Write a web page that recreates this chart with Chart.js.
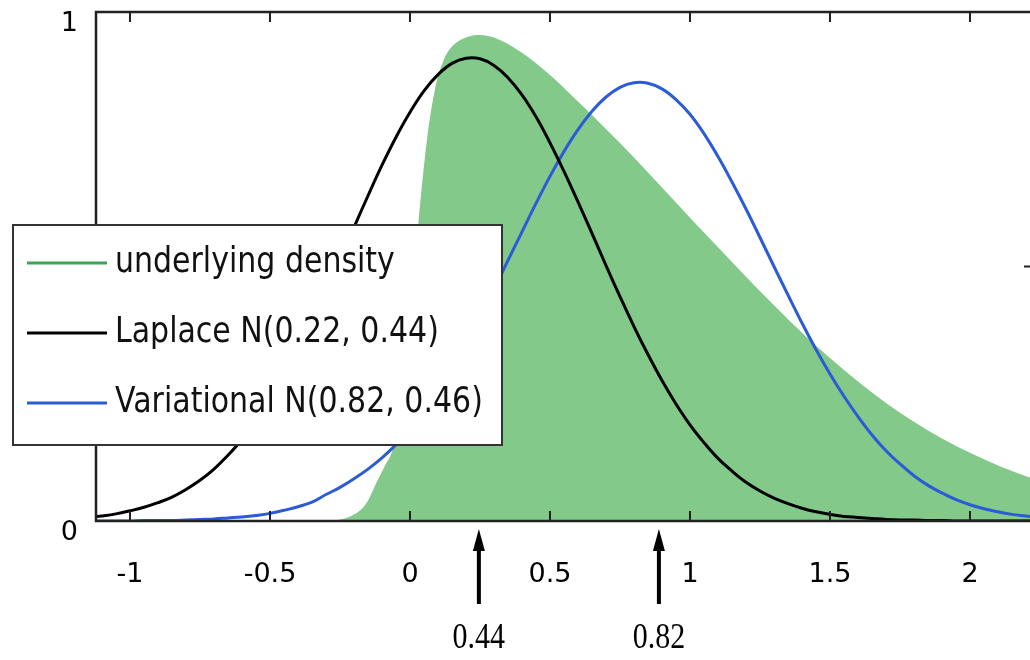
<!DOCTYPE html>
<html>
<head>
<meta charset="utf-8">
<script src="https://cdn.jsdelivr.net/npm/chart.js@4.4.1/dist/chart.umd.min.js"></script>
<style>
  html, body { margin: 0; padding: 0; background: #fff; overflow: hidden; }
  #wrap { position: absolute; left: 0; top: 0; width: 1036px; height: 660px; }
</style>
</head>
<body>
<div id="wrap"><canvas id="c" width="1036" height="660"></canvas></div>
<script>
// ---- data ----
const xGrid = [-1.15,-1.10,-1.05,-1.00,-0.95,-0.90,-0.85,-0.80,-0.75,-0.70,-0.65,-0.60,-0.55,-0.50,-0.45,-0.40,-0.35,-0.30,-0.25,-0.20,-0.15,-0.10,-0.05,
  0.00,0.05,0.10,0.15,0.20,0.25,0.30,0.35,0.40,0.45,0.50,0.55,0.60,0.65,0.70,0.75,0.80,0.85,0.90,0.95,
  1.00,1.05,1.10,1.15,1.20,1.25,1.30,1.35,1.40,1.45,1.50,1.55,1.60,1.65,1.70,1.75,1.80,1.85,1.90,1.95,
  2.00,2.05,2.10,2.15,2.20,2.25];

const laplaceY = [0.007,0.010,0.014,0.020,0.027,0.036,0.047,0.062,0.080,0.102,0.129,0.160,0.197,0.239,0.286,0.337,0.393,0.453,0.514,0.577,0.639,0.699,0.754,
  0.803,0.845,0.877,0.899,0.909,0.908,0.895,0.871,0.837,0.794,0.743,0.687,0.627,0.565,0.502,0.441,0.382,0.327,0.276,0.230,
  0.189,0.154,0.123,0.098,0.076,0.059,0.045,0.034,0.025,0.018,0.013,0.009,0.007,0.005,0.003,0.002,0.002,0.001,0.001,0.000,
  0,0,0,0,0,0];

const variationalY = [0.000,0.000,0.000,0.000,0.001,0.001,0.001,0.002,0.003,0.004,0.006,0.008,0.011,0.015,0.021,0.028,0.037,0.052,0.066,0.083,0.102,0.124,0.150,
  0.180,0.215,0.255,0.299,0.348,0.400,0.455,0.512,0.568,0.624,0.677,0.726,0.769,0.805,0.833,0.852,0.861,0.860,0.849,0.828,
  0.799,0.761,0.716,0.666,0.613,0.557,0.500,0.444,0.389,0.337,0.289,0.245,0.205,0.169,0.138,0.112,0.089,0.070,0.055,0.042,
  0.032,0.024,0.018,0.013,0.010,0.007];

const densityX = [-1.15,-0.30,-0.25,-0.21,-0.18,-0.15,-0.12,-0.09,-0.06,-0.03,0.00,0.03,0.06,0.09,0.12,0.15,0.20,0.25,0.30,
  0.40,0.50,0.60,0.70,0.80,0.90,1.00,1.10,1.20,1.30,1.40,1.50,1.60,1.70,1.80,1.90,2.00,2.10,2.20,2.25];
const densityY = [0,0,0.003,0.010,0.020,0.040,0.075,0.108,0.145,0.245,0.403,0.586,0.746,0.850,0.905,0.932,0.950,0.955,0.950,
  0.920,0.876,0.824,0.770,0.714,0.655,0.596,0.538,0.480,0.424,0.370,0.320,0.274,0.232,0.195,0.162,0.134,0.109,0.088,0.079];

const seriesLabels = ['underlying density', 'Laplace N(0.22, 0.44)', 'Variational N(0.82, 0.46)'];

const xTickValues = [-1, -0.5, 0, 0.5, 1, 1.5, 2];
const xTickLabels = ['-1', '-0.5', '0', '0.5', '1', '1.5', '2'];
const yTickValues = [0, 0.5, 1];
const yTickLabels = ['0', '', '1'];

const markerValues = [0.246, 0.889];
const markerLabels = ['0.44', '0.82'];

// ---- helpers ----
const pts = (xs, ys) => xs.map((x, i) => ({ x: x, y: ys[i] }));

const framePlugin = {
  id: 'frameTicks',
  afterDatasetsDraw(chart) {
    const ctx = chart.ctx, a = chart.chartArea;
    const xs = chart.scales.x, ys = chart.scales.y;
    ctx.save();
    ctx.strokeStyle = '#222';
    ctx.lineWidth = 2.5;
    ctx.strokeRect(a.left, a.top, a.right - a.left, a.bottom - a.top);
    ctx.lineWidth = 2;
    ctx.beginPath();
    xTickValues.forEach(v => {
      const p = xs.getPixelForValue(v);
      ctx.moveTo(p, a.top); ctx.lineTo(p, a.top + 10);
      ctx.moveTo(p, a.bottom); ctx.lineTo(p, a.bottom - 10);
    });
    yTickValues.forEach(v => {
      const p = ys.getPixelForValue(v);
      ctx.moveTo(a.left, p); ctx.lineTo(a.left + 10, p);
      ctx.moveTo(a.right, p); ctx.lineTo(a.right - 10, p);
    });
    ctx.stroke();
    ctx.restore();
  }
};

const legendBoxPlugin = {
  id: 'legendBox',
  afterDraw(chart) {
    const ctx = chart.ctx;
    const bx = 13, by = 225, bw = 489, bh = 220;
    ctx.save();
    ctx.fillStyle = '#ffffff';
    ctx.fillRect(bx, by, bw, bh);
    ctx.strokeStyle = '#333';
    ctx.lineWidth = 2;
    ctx.strokeRect(bx, by, bw, bh);
    chart.data.datasets.forEach((ds, i) => {
      const y = by + 38 + i * 70;
      ctx.strokeStyle = ds.legendColor;
      ctx.lineWidth = 3;
      ctx.beginPath();
      ctx.moveTo(bx + 14, y);
      ctx.lineTo(bx + 94, y);
      ctx.stroke();
      ctx.save();
      ctx.translate(bx + 102, y);
      ctx.scale(1, 1.2);
      ctx.fillStyle = '#111';
      ctx.font = '30px "DejaVu Sans"';
      ctx.textBaseline = 'middle';
      ctx.textAlign = 'left';
      ctx.fillText(ds.label, 0, 0);
      ctx.restore();
    });
    ctx.restore();
  }
};

const markerPlugin = {
  id: 'markers',
  afterDraw(chart) {
    const ctx = chart.ctx, xs = chart.scales.x;
    ctx.save();
    markerValues.forEach((v, i) => {
      const p = xs.getPixelForValue(v);
      ctx.strokeStyle = '#000';
      ctx.fillStyle = '#000';
      ctx.lineWidth = 4;
      ctx.beginPath();
      ctx.moveTo(p, 604);
      ctx.lineTo(p, 545);
      ctx.stroke();
      ctx.beginPath();
      ctx.moveTo(p, 529);
      ctx.lineTo(p - 6, 551);
      ctx.lineTo(p + 6, 551);
      ctx.closePath();
      ctx.fill();
      ctx.save();
      ctx.translate(p, 639);
      ctx.scale(1, 1.2);
      ctx.font = '30px "Liberation Serif"';
      ctx.textAlign = 'center';
      ctx.textBaseline = 'middle';
      ctx.fillText(markerLabels[i], 0, 0);
      ctx.restore();
    });
    ctx.restore();
  }
};

const tickFont = { family: 'DejaVu Sans', size: 27 };

new Chart(document.getElementById('c'), {
  type: 'line',
  data: {
    datasets: [
      { label: seriesLabels[0], data: pts(densityX, densityY), fill: 'origin',
        backgroundColor: '#82c98a', borderColor: 'rgba(0,0,0,0)', borderWidth: 0,
        pointRadius: 0, cubicInterpolationMode: 'monotone', order: 3, legendColor: '#3aa85a' },
      { label: seriesLabels[1], data: pts(xGrid, laplaceY), fill: false,
        borderColor: '#000000', borderWidth: 3, pointRadius: 0,
        tension: 0.4, order: 1, legendColor: '#000000' },
      { label: seriesLabels[2], data: pts(xGrid, variationalY), fill: false,
        borderColor: '#2b5bd6', borderWidth: 3, pointRadius: 0,
        tension: 0.4, order: 2, legendColor: '#2b5bd6' }
    ]
  },
  options: {
    responsive: false,
    animation: false,
    devicePixelRatio: 1,
    layout: { padding: { top: 12, right: 2, left: 0, bottom: 0 } },
    plugins: { legend: { display: false }, tooltip: { enabled: false } },
    scales: {
      x: {
        type: 'linear', min: -1.1214, max: 2.2286,
        afterBuildTicks(s) { s.ticks = xTickValues.map(v => ({ value: v })); },
        afterFit(s) { s.height = 139; s.paddingLeft = 0; s.paddingRight = 0; },
        grid: { display: false },
        border: { display: false },
        ticks: { callback: (v, i) => xTickLabels[i], font: tickFont, color: '#000',
                 padding: 30, maxRotation: 0, autoSkip: false }
      },
      y: {
        type: 'linear', min: 0, max: 1,
        afterBuildTicks(s) { s.ticks = yTickValues.map(v => ({ value: v })); },
        afterFit(s) { s.width = 96; s.paddingTop = 0; s.paddingBottom = 0; },
        grid: { display: false },
        border: { display: false },
        ticks: { callback: (v, i) => yTickLabels[i], font: tickFont, color: '#000',
                 padding: 10, labelOffset: 12, autoSkip: false }
      }
    }
  },
  plugins: [framePlugin, legendBoxPlugin, markerPlugin]
});
</script>
</body>
</html>
